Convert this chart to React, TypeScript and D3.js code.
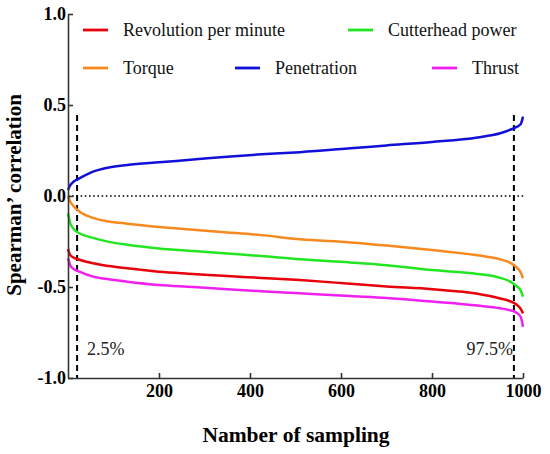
import React, { useEffect, useRef } from "react";
import * as d3 from "d3";

// ---- data ----
const samplingIndex = [0, 5, 12, 25, 55, 90, 130, 200, 275, 350, 425, 510, 620, 700, 800, 900, 950, 970, 985, 995, 1000];
const revolution = [-0.29, -0.325, -0.338, -0.35, -0.37, -0.385, -0.397, -0.416, -0.428, -0.44, -0.45, -0.462, -0.482, -0.497, -0.512, -0.537, -0.563, -0.577, -0.595, -0.62, -0.645];
const cutterhead = [-0.095, -0.15, -0.18, -0.205, -0.23, -0.252, -0.268, -0.288, -0.302, -0.316, -0.33, -0.348, -0.365, -0.38, -0.407, -0.428, -0.45, -0.468, -0.493, -0.52, -0.553];
const torque = [0.0, -0.03, -0.055, -0.085, -0.12, -0.14, -0.152, -0.17, -0.186, -0.2, -0.215, -0.238, -0.255, -0.272, -0.297, -0.326, -0.348, -0.365, -0.39, -0.42, -0.452];
const penetration = [0.033, 0.06, 0.078, 0.097, 0.134, 0.157, 0.17, 0.185, 0.2, 0.216, 0.229, 0.241, 0.262, 0.278, 0.297, 0.322, 0.345, 0.362, 0.378, 0.395, 0.436];
const thrust = [-0.342, -0.38, -0.4, -0.416, -0.443, -0.458, -0.471, -0.489, -0.5, -0.513, -0.523, -0.535, -0.55, -0.56, -0.58, -0.602, -0.617, -0.627, -0.64, -0.665, -0.718];

const seriesNames = ["Revolution per minute", "Cutterhead power", "Torque", "Penetration", "Thrust"];
const xTicks = [200, 400, 600, 800, 1000];
const yTicks = [-1, -0.5, 0, 0.5, 1];
const percentileLines = [20, 980];
const percentileLabels = ["2.5%", "97.5%"];
const percentileTop = 0.445;

const W = 550;
const H = 454;
const FONT = "'Liberation Serif', 'Times New Roman', serif";

export default function App() {
  const xAxisRef = useRef<SVGGElement>(null);
  const yAxisRef = useRef<SVGGElement>(null);

  const x = d3.scaleLinear().domain([0, 1000]).range([68, 523]);
  const y = d3.scaleLinear().domain([-1, 1]).range([378, 14]);

  const series = [
    { name: seriesNames[0], values: revolution, color: "#e8000b" },
    { name: seriesNames[1], values: cutterhead, color: "#22e622" },
    { name: seriesNames[2], values: torque, color: "#f7891f" },
    { name: seriesNames[3], values: penetration, color: "#1010d8" },
    { name: seriesNames[4], values: thrust, color: "#f020f0" },
  ];

  const line = d3
    .line<number>()
    .x((_, i) => x(samplingIndex[i]))
    .y((v) => y(v))
    .curve(d3.curveMonotoneX);

  useEffect(() => {
    if (xAxisRef.current) {
      const g = d3.select(xAxisRef.current);
      g.selectAll("*").remove();
      g.call(
        d3
          .axisBottom(x)
          .tickValues(xTicks)
          .tickSizeInner(-5)
          .tickSizeOuter(0)
          .tickPadding(6)
          .tickFormat((d) => d3.format("d")(d as number))
      );
      g.select(".domain").attr("stroke", "#333").attr("stroke-width", 1.6);
      g.selectAll(".tick line").attr("stroke", "#333").attr("stroke-width", 1.6);
      g.selectAll(".tick text")
        .attr("fill", "#000")
        .style("font-family", FONT)
        .style("font-weight", "bold")
        .style("font-size", "18px");
    }
    if (yAxisRef.current) {
      const g = d3.select(yAxisRef.current);
      g.selectAll("*").remove();
      g.call(
        d3
          .axisLeft(y)
          .tickValues(yTicks)
          .tickSizeInner(-5)
          .tickSizeOuter(0)
          .tickPadding(2)
          .tickFormat((d) => d3.format(".1f")(d as number).replace("−", "-"))
      );
      g.select(".domain").attr("stroke", "#333").attr("stroke-width", 1.6);
      g.selectAll(".tick line").attr("stroke", "#333").attr("stroke-width", 1.6);
      g.selectAll(".tick text")
        .attr("fill", "#000")
        .style("font-family", FONT)
        .style("font-weight", "bold")
        .style("font-size", "18px");
    }
  }, []);

  const legendItems = [
    { s: series[0], lx: 83, ty: 36 },
    { s: series[1], lx: 348, ty: 36 },
    { s: series[2], lx: 83, ty: 74 },
    { s: series[3], lx: 235, ty: 74 },
    { s: series[4], lx: 432, ty: 74 },
  ];

  return (
    <svg
      width={W}
      height={H}
      style={{ position: "absolute", left: 0, top: 0, background: "#fff" }}
      fontFamily={FONT}
    >
      <rect x={0} y={0} width={W} height={H} fill="#fff" />

      {/* zero reference line */}
      <line
        x1={x(0)}
        x2={x(1000) + 2}
        y1={y(0)}
        y2={y(0)}
        stroke="#000"
        strokeWidth={1.6}
        strokeDasharray="1.6,2.6"
      />

      {/* percentile dashed lines */}
      {percentileLines.map((p) => (
        <line
          key={p}
          x1={x(p)}
          x2={x(p)}
          y1={y(percentileTop)}
          y2={y(-1)}
          stroke="#000"
          strokeWidth={2}
          strokeDasharray="6,4"
        />
      ))}
      <text x={x(percentileLines[0]) + 10} y={355} fontSize={18} fill="#222">
        {percentileLabels[0]}
      </text>
      <text x={x(percentileLines[1]) - 1} y={355} fontSize={18} fill="#222" textAnchor="end">
        {percentileLabels[1]}
      </text>

      {/* series */}
      {series.map((s) => (
        <path
          key={s.name}
          d={line(s.values) || ""}
          fill="none"
          stroke={s.color}
          strokeWidth={2.5}
          strokeLinejoin="round"
        />
      ))}

      {/* axes */}
      <g ref={xAxisRef} transform={`translate(0,${y(-1)})`} />
      <g ref={yAxisRef} transform={`translate(${x(0)},0)`} />

      {/* legend */}
      {legendItems.map(({ s, lx, ty }) => (
        <g key={s.name}>
          <line x1={lx} x2={lx + 25} y1={ty - 6} y2={ty - 6} stroke={s.color} strokeWidth={2.8} />
          <text x={lx + 40} y={ty} fontSize={18} fill="#111">
            {s.name}
          </text>
        </g>
      ))}

      {/* axis titles */}
      <text
        x={296}
        y={442}
        textAnchor="middle"
        fontSize={21.5}
        fontWeight="bold"
        fill="#000"
      >
        Namber of sampling
      </text>
      <text
        transform={`translate(20.5,195) rotate(-90)`}
        textAnchor="middle"
        fontSize={21}
        fontWeight="bold"
        fill="#000"
      >
        Spearman’ correlation
      </text>
    </svg>
  );
}
